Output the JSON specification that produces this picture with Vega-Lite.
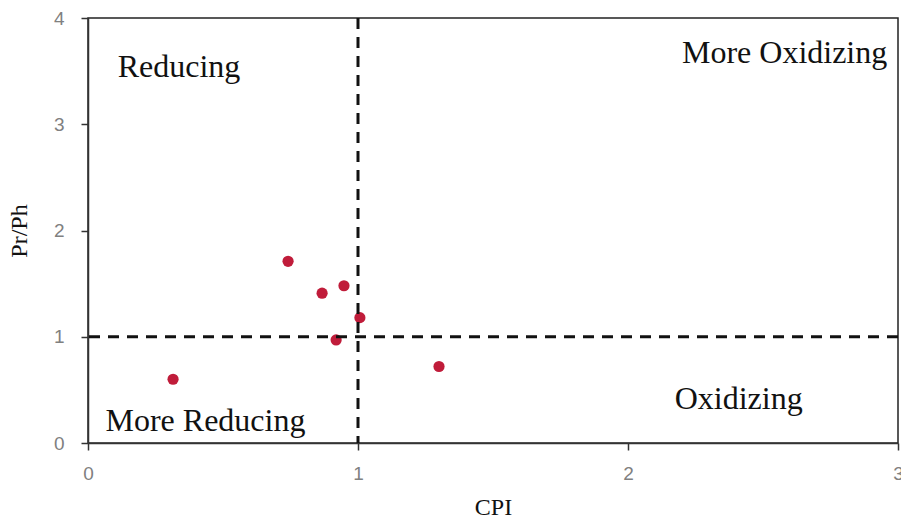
{
  "$schema": "https://vega.github.io/schema/vega-lite/v6.json",
  "width": 810,
  "height": 425,
  "padding": {"left": 88, "top": 18, "right": 3, "bottom": 79},
  "autosize": {"type": "none"},
  "background": "white",
  "config": {
    "view": {"stroke": "#222", "strokeWidth": 1.5},
    "axis": {
      "grid": false,
      "domainColor": "#333",
      "domainWidth": 1.5,
      "tickColor": "#333",
      "tickWidth": 1.5,
      "tickSize": 7,
      "labelFont": "Liberation Sans",
      "labelFontSize": 19,
      "labelColor": "#808080",
      "titleFont": "Liberation Serif",
      "titleFontWeight": "normal",
      "titleFontSize": 24,
      "titleColor": "#111"
    }
  },
  "datasets": {
    "pts": [
      {"CPI": 0.315, "PrPh": 0.60},
      {"CPI": 0.741, "PrPh": 1.71},
      {"CPI": 0.867, "PrPh": 1.41},
      {"CPI": 0.948, "PrPh": 1.48},
      {"CPI": 1.007, "PrPh": 1.18},
      {"CPI": 0.919, "PrPh": 0.97},
      {"CPI": 1.30, "PrPh": 0.72}
    ],
    "labels": [
      {"CPI": 0.337, "PrPh": 3.54, "label": "Reducing"},
      {"CPI": 2.58, "PrPh": 3.67, "label": "More Oxidizing"},
      {"CPI": 0.435, "PrPh": 0.207, "label": "More Reducing"},
      {"CPI": 2.41, "PrPh": 0.414, "label": "Oxidizing"}
    ]
  },
  "layer": [
    {
      "data": {"name": "pts"},
      "mark": {"type": "point", "filled": true, "size": 125, "color": "#c01c3a", "opacity": 1},
      "encoding": {
        "x": {
          "field": "CPI", "type": "quantitative",
          "scale": {"domain": [0, 3], "nice": false, "zero": false},
          "axis": {
            "title": "CPI",
            "values": [0, 0.5, 1, 1.5, 2, 2.5, 3],
            "format": "d",
            "labelExpr": "datum.value % 1 === 0 ? datum.label : ''",
            "labelPadding": 14,
            "titlePadding": 12,
            "labelFlush": false
          }
        },
        "y": {
          "field": "PrPh", "type": "quantitative",
          "scale": {"domain": [0, 4], "nice": false, "zero": false},
          "axis": {
            "title": "Pr/Ph",
            "values": [0, 0.5, 1, 1.5, 2, 2.5, 3, 3.5, 4],
            "format": "d",
            "labelExpr": "datum.value % 1 === 0 ? datum.label : ''",
            "labelPadding": 17,
            "titlePadding": 22,
            "labelFlush": false
          }
        }
      }
    },
    {
      "data": {"values": [{}]},
      "mark": {"type": "rule", "strokeDash": [11, 8], "strokeWidth": 3, "color": "#111"},
      "encoding": {"x": {"datum": 1, "type": "quantitative"}}
    },
    {
      "data": {"values": [{}]},
      "mark": {"type": "rule", "strokeDash": [11, 8], "strokeWidth": 3, "color": "#111"},
      "encoding": {"y": {"datum": 1, "type": "quantitative"}}
    },
    {
      "data": {"name": "labels"},
      "mark": {"type": "text", "font": "Liberation Serif", "fontSize": 32, "color": "#111", "align": "center", "baseline": "middle"},
      "encoding": {
        "x": {"field": "CPI", "type": "quantitative"},
        "y": {"field": "PrPh", "type": "quantitative"},
        "text": {"field": "label"}
      }
    }
  ]
}
